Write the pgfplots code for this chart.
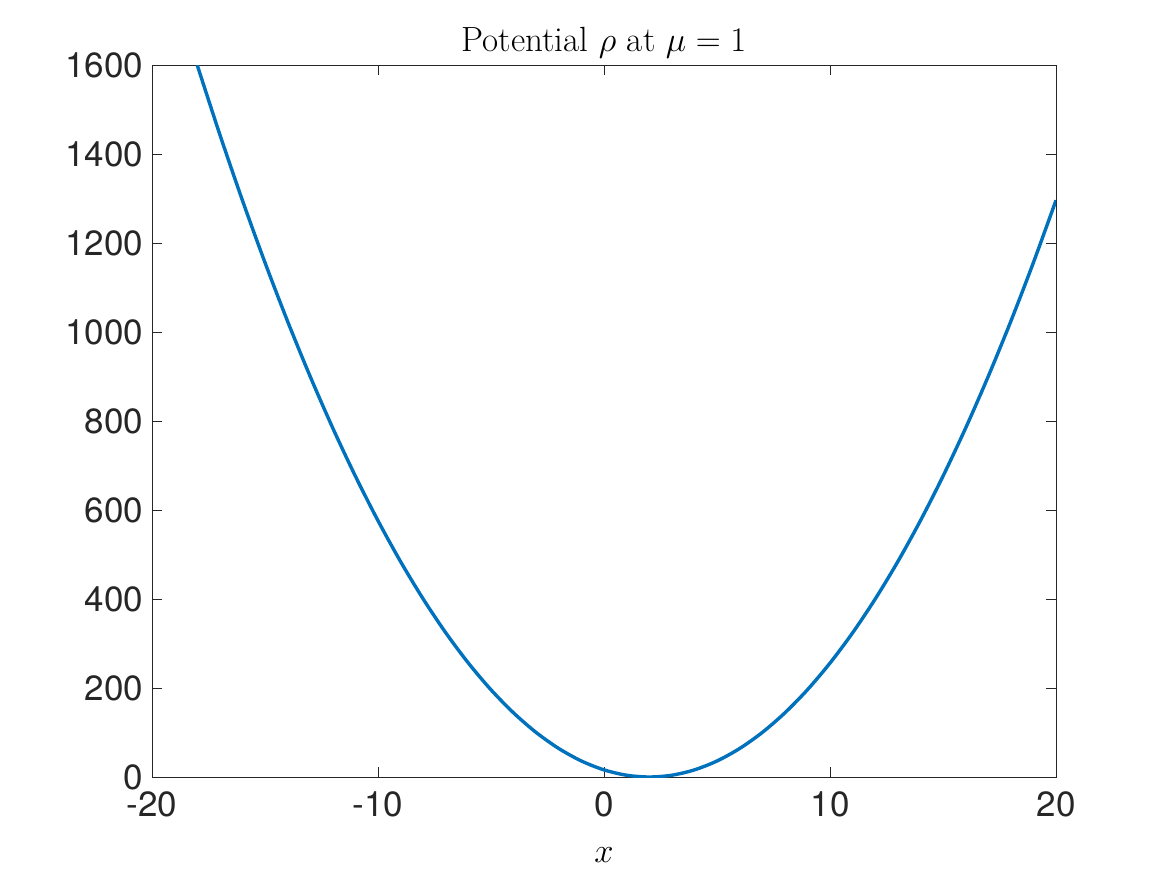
\documentclass[border=0pt]{standalone}
\usepackage{pgfplots}
\pgfplotsset{compat=1.18}
\usepackage{fontspec}
\newfontfamily\ticksfont{TeX Gyre Heros}
\definecolor{mblue}{RGB}{0,114,189}
\definecolor{mgray}{RGB}{38,38,38}
\begin{document}
\begin{tikzpicture}
\useasboundingbox (0,0) rectangle (583.5pt,437.5pt);
\begin{axis}[
  at={(76pt,49pt)}, anchor=south west,
  scale only axis, width=452pt, height=356pt,
  xmin=-20, xmax=20, ymin=0, ymax=1600,
  xtick={-20,-10,0,10,20},
  xticklabels={-20,-10,0,10,20},
  ytick={0,200,400,600,800,1000,1200,1400,1600},
  yticklabels={0,200,400,600,800,1000,1200,1400,1600},
  tick align=inside, tick pos=both,
  major tick length=5pt,
  axis line style={mgray, line width=0.4pt},
  tick style={mgray, line width=0.4pt},
  ticklabel style={font=\ticksfont\fontsize{17.5}{20}\selectfont, text=mgray},
  xticklabel style={yshift=-4pt},
  yticklabel style={xshift=-1pt},
  xlabel={$x$}, xlabel style={font=\fontsize{17.5}{20}\selectfont, yshift=-8pt},
  title={Potential $\rho$ at $\mu = 1$},
  title style={font=\fontsize{17.5}{20}\selectfont, yshift=-6pt},
]
\addplot[mblue, line width=1.7pt, smooth] coordinates {
(-18,1600) (-17,1444) (-16,1296) (-15,1156) (-14,1024) (-13,900) (-12,784)
(-11,676) (-10,576) (-9,484) (-8,400) (-7,324) (-6,256) (-5,196) (-4,144)
(-3,100) (-2,64) (-1,36) (0,16) (1,4) (2,0) (3,4) (4,16) (5,36) (6,64)
(7,100) (8,144) (9,196) (10,256) (11,324) (12,400) (13,484) (14,576)
(15,676) (16,784) (17,900) (18,1024) (19,1156) (20,1296)
};
\end{axis}
\end{tikzpicture}
\end{document}
